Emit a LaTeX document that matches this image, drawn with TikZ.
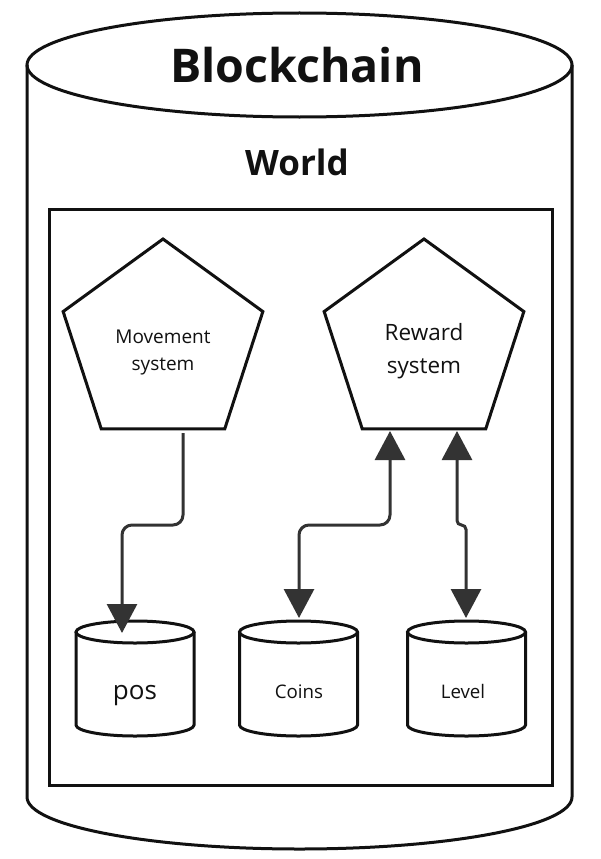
\documentclass[tikz,border=0pt]{standalone}
\usepackage{fontspec}
\setmainfont{Open Sans}
\usetikzlibrary{arrows.meta,shapes.geometric}
\definecolor{ink}{HTML}{111111}
\definecolor{arrowgray}{HTML}{333333}
\begin{document}
\begin{tikzpicture}[x=1pt,y=1pt,
  outline/.style={draw=ink, line width=3pt},
  penta/.style={regular polygon, regular polygon sides=5, minimum size=210pt,
                inner sep=0pt, outer sep=0pt, draw=ink, line width=3pt},
  label/.style={text=ink, inner sep=0pt, align=center},
  link/.style={draw=arrowgray, line width=3pt, rounded corners=10pt},
  onetip/.style={-{Triangle[length=29pt,width=30pt]}},
  twotips/.style={{Triangle[length=29pt,width=30pt]}-{Triangle[length=29pt,width=30pt]}}
]
\useasboundingbox (0,0) rectangle (600,-859);
\fill[white] (0,0) rectangle (600,-859);

% outer blockchain cylinder
\draw[outline] (27,-65) -- (27,-797)
  arc[start angle=180,end angle=360,x radius=272.5,y radius=52] -- (572,-65);
\draw[outline] (299.5,-65) ellipse[x radius=272.5,y radius=52];
\node[label, anchor=base, font=\fontsize{46.5}{56}\selectfont\bfseries] (blockchain) at (297,-82) {Blockchain};
\node[label, anchor=base, font=\fontsize{35}{42}\selectfont\bfseries] (world) at (297,-175) {World};

% world box
\draw[outline] (49,-209) rectangle (552,-785);

% systems
\node[penta] (movement) at (163,-344) {};
\node[label, font=\fontsize{19}{27}\selectfont] (movementtext) at (163,-352) {Movement\\system};
\node[penta] (reward) at (424,-344) {};
\node[label, font=\fontsize{22.5}{33}\selectfont] (rewardtext) at (424,-351) {Reward\\system};

% components (cylinders)
\draw[outline, fill=white] (76,-632) -- (76,-725)
  arc[start angle=180,end angle=360,x radius=59,y radius=11] -- (194,-632);
\draw[outline] (135,-632) ellipse[x radius=59,y radius=11];
\node[label, anchor=base, font=\fontsize{26}{30}\selectfont] (pos) at (135,-699) {pos};

\draw[outline, fill=white] (239.5,-632) -- (239.5,-725)
  arc[start angle=180,end angle=360,x radius=59,y radius=11] -- (357.5,-632);
\draw[outline] (298.5,-632) ellipse[x radius=59,y radius=11];
\node[label, anchor=base, font=\fontsize{18.7}{22}\selectfont] (coins) at (299,-698) {Coins};

\draw[outline, fill=white] (407.5,-632) -- (407.5,-725)
  arc[start angle=180,end angle=360,x radius=59,y radius=11] -- (525.5,-632);
\draw[outline] (466.5,-632) ellipse[x radius=59,y radius=11];
\node[label, anchor=base, font=\fontsize{18.7}{22}\selectfont] (level) at (463,-698) {Level};

% connector ends
\coordinate (midrow) at (300,-525);
\coordinate (mvout) at (183,-433);
\coordinate (posin) at (122,-633);
\coordinate (rwinA) at (390,-431);
\coordinate (rwinB) at (457,-431);
\coordinate (coinsin) at (299,-618);
\coordinate (levelin) at (466,-618);

% connectors
\draw[link, onetip] (mvout) -- (mvout |- midrow) -| (posin);
\draw[link, twotips] (coinsin) -- (coinsin |- midrow) -| (rwinA);
\draw[link, twotips, rounded corners=4.5pt] (rwinB) -- (rwinB |- midrow) -- (levelin |- midrow) -- (levelin);
\end{tikzpicture}
\end{document}
